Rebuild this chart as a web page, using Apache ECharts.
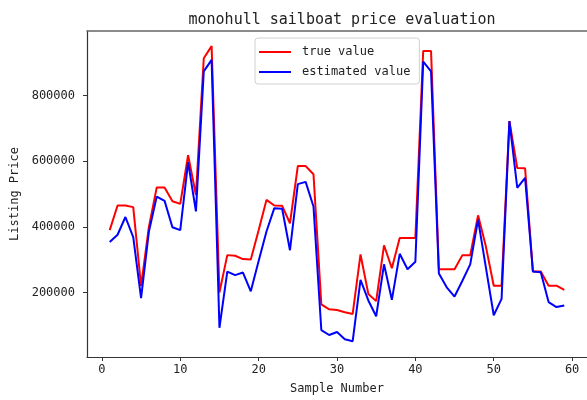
<!DOCTYPE html>
<html>
<head>
<meta charset="utf-8">
<script src="https://cdn.jsdelivr.net/npm/echarts@6/dist/echarts.min.js"></script>
<style>html,body{margin:0;padding:0;background:#fff;}#c{width:587px;height:400px;}</style>
</head>
<body>
<div id="c"></div>
<script>
const samples = [1,2,3,4,5,6,7,8,9,10,11,12,13,14,15,16,17,18,19,20,21,22,23,24,25,26,27,28,29,30,31,32,33,34,35,36,37,38,39,40,41,42,43,44,45,46,47,48,49,50,51,52,53,54,55,56,57,58,59];
const trueValues = [390000,465000,465000,460000,220000,400000,520000,520000,478000,470000,618000,497000,913000,950000,200000,314000,312000,302000,301000,390000,482000,465000,464000,411000,585000,585000,560000,164000,149000,147000,140000,135000,316000,196000,174000,344000,274000,366000,366000,366000,935000,935000,271000,271000,271000,314000,314000,435000,340000,221000,221000,722000,579000,578000,264000,264000,221000,221000,208000];
const estimatedValues = [354000,376000,430000,369000,183000,386000,492000,479000,399000,390000,597000,447000,873000,908000,93000,264000,253000,261000,204000,296000,386000,457000,455000,329000,530000,537000,462000,86000,71000,80000,58000,52000,239000,176000,128000,286000,178000,318000,271000,294000,903000,873000,258000,216000,188000,236000,286000,422000,276000,131000,181000,722000,519000,549000,264000,262000,171000,156000,161000];
const xTicks = [0,10,20,30,40,50,60];
const yTicks = [200000,400000,600000,800000];

const font = 'DejaVu Sans Mono';
const chart = echarts.init(document.getElementById('c'), null, {renderer:'canvas'});
chart.setOption({
  backgroundColor:'#fff',
  animation:false,
  title:{text:'monohull sailboat price evaluation',left:337,textAlign:'center',top:8,
    textStyle:{fontFamily:font,fontSize:15,fontWeight:'normal',color:'#222'}},
  legend:{orient:'vertical',left:255,top:38,itemWidth:32,itemHeight:2,itemGap:6,icon:'rect',
    padding:[7,9,5,4],borderColor:'#d0d0d0',borderWidth:1,borderRadius:3,backgroundColor:'#fff',
    textStyle:{fontFamily:font,fontSize:12,color:'#222',lineHeight:14,padding:[0,0,0,6]},
    data:['true value','estimated value']},
  grid:{left:87,top:31,width:502,height:329},
  xAxis:[{type:'value',min:-1.9,max:61.9,name:'Sample Number',nameLocation:'middle',nameGap:26,
    nameTextStyle:{fontFamily:font,fontSize:12,color:'#222'},
    axisLine:{show:true,onZero:false,lineStyle:{color:'#333',width:1.2}},
    axisTick:{show:true,length:4,customValues:xTicks,lineStyle:{color:'#333'}},
    axisLabel:{customValues:xTicks,margin:7,fontFamily:font,fontSize:12,color:'#222'},
    splitLine:{show:false}},
   {type:'value',position:'top',min:-1.9,max:61.9,
    axisLine:{show:true,onZero:false,lineStyle:{color:'#666',width:1.5}},
    axisTick:{show:false},axisLabel:{show:false},splitLine:{show:false}}],
  yAxis:{type:'value',min:4000,max:996000,name:'Listing Price',nameLocation:'middle',nameGap:63,
    nameTextStyle:{fontFamily:font,fontSize:12,color:'#222'},
    axisLine:{show:true,onZero:false,lineStyle:{color:'#333',width:1.2}},
    axisTick:{show:true,length:4,customValues:yTicks,lineStyle:{color:'#333'}},
    axisLabel:{customValues:yTicks,margin:12,fontFamily:font,fontSize:12,color:'#222',
      formatter:(v)=>String(Math.round(v))},
    splitLine:{show:false}},
  series:[
    {name:'true value',type:'line',showSymbol:false,symbol:'none',color:'#ff0000',
      lineStyle:{color:'#ff0000',width:2},data:samples.map((s,i)=>[s,trueValues[i]])},
    {name:'estimated value',type:'line',showSymbol:false,symbol:'none',color:'#0000ff',
      lineStyle:{color:'#0000ff',width:2},data:samples.map((s,i)=>[s,estimatedValues[i]])}
  ]
});
</script>
</body>
</html>
